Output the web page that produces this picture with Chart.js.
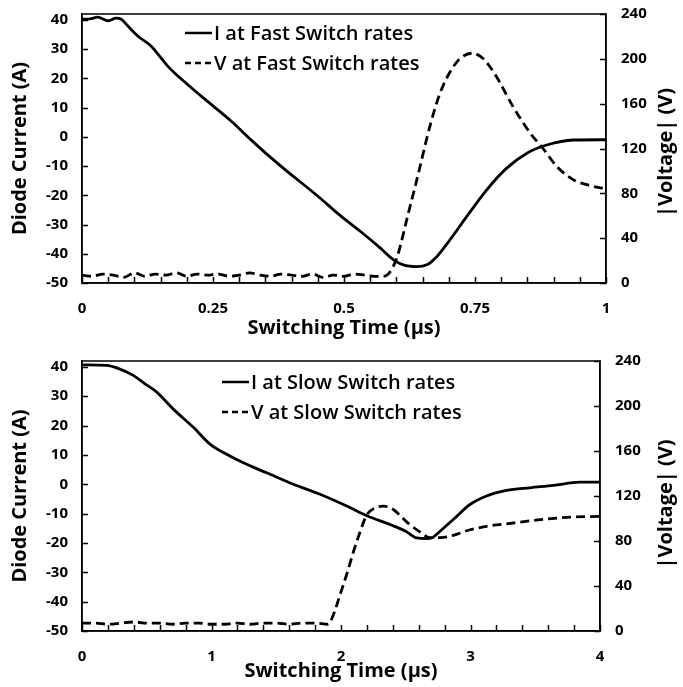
<!DOCTYPE html>
<html>
<head>
<meta charset="utf-8">
<script src="https://cdn.jsdelivr.net/npm/chart.js@4.4.1/dist/chart.umd.min.js"></script>
<style>
  body { margin: 0; background: #fff; }
  .box { position: relative; width: 683px; }
</style>
</head>
<body>
<div class="box" style="height:340px"><canvas id="fastChart"></canvas></div>
<div class="box" style="height:347px"><canvas id="slowChart"></canvas></div>
<script>
// fast switch (top), time in µs
const fastTimeI = [0, 0.015, 0.03, 0.05, 0.065, 0.075, 0.088, 0.107, 0.132, 0.15, 0.164, 0.202, 0.247, 0.285, 0.321, 0.35, 0.384, 0.448, 0.492, 0.531, 0.569, 0.594, 0.613, 0.639, 0.658, 0.677, 0.702, 0.734, 0.772, 0.81, 0.849, 0.887, 0.938, 1.0];
const fastCurrent = [40.2, 40.3, 40.9, 39.7, 40.6, 40.2, 37.8, 34.4, 31.0, 27.2, 24.1, 17.8, 11.0, 5.3, -0.8, -5.5, -10.7, -20.0, -26.8, -32.3, -38.0, -42.0, -43.8, -44.4, -43.8, -41.0, -35.3, -27.3, -18.2, -10.8, -5.6, -2.8, -1.1, -1.0];
const fastTimeV = [0, 0.02, 0.04, 0.06, 0.08, 0.1, 0.12, 0.14, 0.16, 0.18, 0.2, 0.22, 0.24, 0.26, 0.28, 0.3, 0.32, 0.34, 0.36, 0.38, 0.4, 0.42, 0.44, 0.46, 0.48, 0.5, 0.52, 0.54, 0.56, 0.575, 0.588, 0.597, 0.604, 0.62, 0.64, 0.664, 0.683, 0.702, 0.721, 0.744, 0.766, 0.791, 0.823, 0.855, 0.88, 0.906, 0.938, 0.969, 1.0];
const fastVoltage = [7, 6, 8, 7, 5, 9, 6, 8, 7, 9, 6, 8, 7, 8, 6, 7, 9, 7, 6, 8, 7, 6, 8, 5, 7, 6, 8, 7, 6, 6, 10, 18, 27, 57, 94, 140, 169, 188, 200, 205, 200, 184, 157, 134, 120, 104, 92, 87, 84];

// slow switch (bottom)
const slowTimeI = [0, 0.19, 0.278, 0.396, 0.484, 0.577, 0.705, 0.86, 0.988, 1.117, 1.271, 1.426, 1.632, 1.838, 2.044, 2.21, 2.378, 2.5, 2.584, 2.661, 2.7, 2.765, 2.867, 2.996, 3.124, 3.279, 3.459, 3.639, 3.845, 4.0];
const slowCurrent = [40.7, 40.5, 39.5, 37.1, 34.3, 31.4, 25.6, 19.4, 13.7, 10.2, 6.8, 3.9, 0.0, -3.4, -7.4, -10.9, -13.7, -16.0, -18.3, -18.5, -18.3, -16.0, -12.0, -6.9, -4.0, -2.1, -1.2, -0.4, 0.7, 0.7];
const slowTimeV = [0, 0.1, 0.2, 0.3, 0.4, 0.5, 0.6, 0.7, 0.8, 0.9, 1.0, 1.1, 1.2, 1.3, 1.4, 1.5, 1.6, 1.7, 1.8, 1.9, 1.94, 1.992, 2.043, 2.095, 2.147, 2.198, 2.275, 2.327, 2.404, 2.507, 2.61, 2.687, 2.765, 2.867, 2.996, 3.124, 3.33, 3.537, 3.743, 4.0];
const slowVoltage = [7, 7, 6, 7, 8, 7, 7, 6, 7, 7, 6, 6, 7, 6, 7, 7, 6, 7, 7, 6, 14, 32, 50, 70, 88, 103, 110, 111, 108, 97, 88, 83, 83, 85, 90, 93, 96, 99, 101, 102];

const currentTicks = { min: -50, max: 42, step: 10 };
const voltageTicks = { min: 0, max: 240, step: 40 };

const FONT = '"Open Sans", Lato, sans-serif';

function pts(xs, ys) {
  return xs.map((x, i) => ({ x: x, y: ys[i] }));
}

// plot frame plus short tick marks pointing into the plot
const framePlugin = {
  id: 'frame',
  afterDatasetsDraw(chart) {
    const a = chart.chartArea, ctx = chart.ctx;
    const len = 6;
    ctx.save();
    ctx.strokeStyle = '#000';
    ctx.lineWidth = 1.5;
    ctx.beginPath();
    chart.scales.x.ticks.forEach(t => {
      const px = Math.round(chart.scales.x.getPixelForValue(t.value)) + 0.5;
      ctx.moveTo(px, a.bottom);
      ctx.lineTo(px, a.bottom - len);
    });
    chart.scales.y.ticks.forEach(t => {
      const py = Math.round(chart.scales.y.getPixelForValue(t.value)) + 0.5;
      ctx.moveTo(a.left, py);
      ctx.lineTo(a.left + len, py);
    });
    chart.scales.y1.ticks.forEach(t => {
      const py = Math.round(chart.scales.y1.getPixelForValue(t.value)) + 0.5;
      ctx.moveTo(a.right, py);
      ctx.lineTo(a.right - len, py);
    });
    ctx.stroke();
    ctx.strokeRect(a.left, a.top, a.right - a.left, a.bottom - a.top);
    ctx.restore();
  }
};

// legend drawn inside the plot area, stacked
const insideLegend = {
  id: 'insideLegend',
  afterDraw(chart, args, opts) {
    const ctx = chart.ctx, a = chart.chartArea;
    ctx.save();
    ctx.font = '600 20px ' + FONT;
    ctx.fillStyle = '#000';
    ctx.textBaseline = 'middle';
    chart.data.datasets.forEach((ds, i) => {
      const x = a.left + opts.left;
      const y = a.top + opts.top + i * opts.rowGap;
      ctx.beginPath();
      ctx.setLineDash(i === 1 ? [6, 4] : []);
      ctx.lineWidth = 2.5;
      ctx.strokeStyle = '#000';
      ctx.moveTo(x, y);
      ctx.lineTo(x + 27, y);
      ctx.stroke();
      ctx.setLineDash([]);
      ctx.fillText(ds.label, x + 29, y + 1);
    });
    ctx.restore();
  }
};

// right axis title reads bottom to top, so draw it here
const rightTitle = {
  id: 'rightTitle',
  afterDraw(chart, args, opts) {
    const ctx = chart.ctx, a = chart.chartArea;
    ctx.save();
    ctx.translate(opts.x, (a.top + a.bottom) / 2 + opts.dy);
    ctx.rotate(-Math.PI / 2);
    ctx.font = 'bold 20px ' + FONT;
    ctx.fillStyle = '#000';
    ctx.textAlign = 'center';
    ctx.textBaseline = 'middle';
    ctx.fillText('|Voltage| (V)', 0, 0);
    ctx.restore();
  }
};

const noGrid = { display: false, drawTicks: false };

// fixed axis widths, and no extra room for the end labels
function fixWidth(w) {
  return s => {
    s.width = w;
    s.paddingTop = 0;
    s.paddingBottom = 0;
  };
}

function makeChart(id, cfg) {
  const ctx = document.getElementById(id).getContext('2d');
  return new Chart(ctx, {
    type: 'line',
    data: {
      datasets: [{
        label: cfg.labelI,
        data: pts(cfg.tI, cfg.iVals),
        yAxisID: 'y',
        borderColor: '#000',
        borderWidth: 2.8,
        pointRadius: 0,
        cubicInterpolationMode: 'monotone',
        fill: false
      }, {
        label: cfg.labelV,
        data: pts(cfg.tV, cfg.vVals),
        yAxisID: 'y1',
        borderColor: '#000',
        borderWidth: 2.8,
        borderDash: [9, 5],
        pointRadius: 0,
        cubicInterpolationMode: 'monotone',
        fill: false
      }]
    },
    options: {
      responsive: true,
      maintainAspectRatio: false,
      animation: false,
      layout: { padding: { top: cfg.top, left: 0, right: 0, bottom: 0 } },
      plugins: {
        legend: { display: false },
        tooltip: { enabled: false },
        insideLegend: cfg.legend,
        rightTitle: cfg.rightTitle
      },
      scales: {
        x: {
          type: 'linear',
          min: 0,
          max: cfg.xMax,
          afterFit: s => {
            s.height = cfg.xHeight;
            s.paddingLeft = 0;
            s.paddingRight = 0;
          },
          ticks: {
            stepSize: cfg.xStep,
            autoSkip: false,
            maxRotation: 0,
            padding: 17,
            color: '#000',
            font: { family: FONT, size: 15, weight: 'bold' },
            callback: v => {
              const k = v / cfg.xLabelStep;
              return Math.abs(k - Math.round(k)) < 1e-6 ? String(+v.toFixed(2)) : '';
            }
          },
          grid: noGrid,
          border: { color: '#000', width: 1.5 },
          title: {
            display: true,
            text: 'Switching Time (µs)',
            color: '#000',
            font: { family: FONT, size: 20, weight: 'bold' },
            padding: { top: 0, bottom: cfg.xTitlePad }
          }
        },
        y: {
          position: 'left',
          min: currentTicks.min,
          max: currentTicks.max,
          afterFit: fixWidth(82),
          ticks: {
            stepSize: currentTicks.step,
            includeBounds: false,
            padding: 14,
            color: '#000',
            font: { family: FONT, size: 15, weight: 'bold' }
          },
          grid: noGrid,
          border: { color: '#000', width: 1.5 },
          title: {
            display: true,
            text: 'Diode Current (A)',
            color: '#000',
            font: { family: FONT, size: 20, weight: 'bold' },
            padding: { top: 8, bottom: 0 }
          }
        },
        y1: {
          position: 'right',
          min: voltageTicks.min,
          max: voltageTicks.max,
          afterFit: fixWidth(cfg.rightWidth),
          ticks: {
            stepSize: voltageTicks.step,
            padding: 15,
            color: '#000',
            font: { family: FONT, size: 15, weight: 'bold' }
          },
          grid: noGrid,
          border: { color: '#000', width: 1.5 }
        }
      }
    },
    plugins: [framePlugin, insideLegend, rightTitle]
  });
}

makeChart('fastChart', {
  labelI: 'I at Fast Switch rates',
  labelV: 'V at Fast Switch rates',
  tI: fastTimeI, iVals: fastCurrent,
  tV: fastTimeV, vVals: fastVoltage,
  xMax: 1, xStep: 0.05, xLabelStep: 0.25,
  top: 14, xHeight: 57, rightWidth: 77, xTitlePad: 0,
  legend: { left: 103, top: 19, rowGap: 30 },
  rightTitle: { x: 666, dy: 4 }
});

makeChart('slowChart', {
  labelI: 'I at Slow Switch rates',
  labelV: 'V at Slow Switch rates',
  tI: slowTimeI, iVals: slowCurrent,
  tV: slowTimeV, vVals: slowVoltage,
  xMax: 4, xStep: 0.2, xLabelStep: 1,
  top: 21, xHeight: 56, rightWidth: 83, xTitlePad: 4,
  legend: { left: 140, top: 21, rowGap: 30 },
  rightTitle: { x: 666, dy: 8 }
});
</script>
</body>
</html>
